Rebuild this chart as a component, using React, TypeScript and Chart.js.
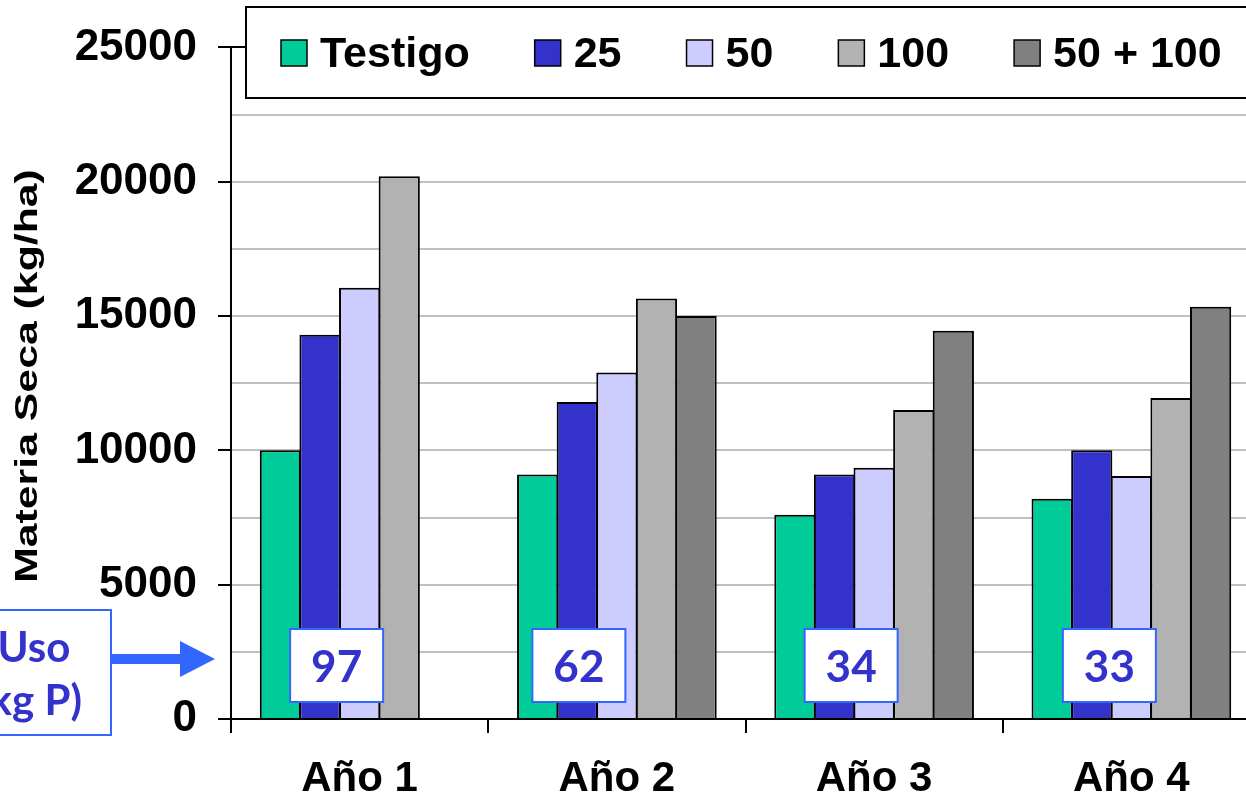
import React, { useEffect, useRef } from 'react';
import { Chart, registerables } from 'chart.js';

Chart.register(...registerables);

// ---- data ----
const categories = ['Año 1', 'Año 2', 'Año 3', 'Año 4'];
const seriesNames = ['Testigo', '25', '50', '100', '50 + 100'];
const testigo = [10000, 9100, 7600, 8200];
const p25 = [14300, 11800, 9100, 10000];
const p50 = [16050, 12900, 9350, 9050];
const p100 = [20200, 15650, 11500, 11950];
const p50plus100: (number | null)[] = [null, 15000, 14450, 15350];
const usoKgP = ['97', '62', '34', '33'];
const yTickLabels = [0, 5000, 10000, 15000, 20000, 25000];
const yAxisTitle = 'Materia Seca (kg/ha)';
const usoLines = ['Uso', '(kg P)'];

// ---- styles ----
const seriesColors = ['#00cc99', '#3333cc', '#ccccff', '#b2b2b2', '#808080'];
const FONT = "'Liberation Sans', Arial, sans-serif";
const NOTE_FONT = "Lato, 'DejaVu Sans', sans-serif";
const NOTE_TEXT = '#3333cc';
const NOTE_BORDER = '#3366ff';
const boxOffsets = [-23, -38, -23, -22];

const overlayPlugin = {
  id: 'overlay',
  afterDraw(chart: any) {
    const { ctx, chartArea, scales } = chart;
    const xs = scales.x;
    ctx.save();

    // Legend box
    ctx.fillStyle = '#fff';
    ctx.fillRect(246, 7, 1200, 91);
    ctx.strokeStyle = '#000';
    ctx.lineWidth = 2;
    ctx.strokeRect(246, 7, 1200, 91);
    ctx.font = `bold 43px ${FONT}`;
    ctx.textBaseline = 'alphabetic';
    ctx.textAlign = 'left';
    let lx = 281;
    seriesNames.forEach((name, i) => {
      ctx.fillStyle = seriesColors[i];
      ctx.fillRect(lx, 40, 26, 26);
      ctx.strokeStyle = '#000';
      ctx.lineWidth = 1.5;
      ctx.strokeRect(lx, 40, 26, 26);
      ctx.fillStyle = '#000';
      ctx.fillText(name, lx + 39, 67);
      lx += 39 + ctx.measureText(name).width + 65;
    });

    // Y axis title (stretched along its length)
    ctx.save();
    ctx.translate(0, 376);
    ctx.rotate(-Math.PI / 2);
    ctx.scale(1.38, 1);
    ctx.font = `bold 31px ${FONT}`;
    ctx.fillStyle = '#000';
    ctx.textAlign = 'center';
    ctx.textBaseline = 'alphabetic';
    ctx.fillText(yAxisTitle, 0, 37);
    ctx.restore();

    // Uso (kg P) box
    ctx.fillStyle = '#fff';
    ctx.fillRect(-49, 610, 160, 125);
    ctx.strokeStyle = NOTE_BORDER;
    ctx.lineWidth = 2;
    ctx.strokeRect(-49, 610, 160, 125);
    ctx.fillStyle = NOTE_TEXT;
    ctx.font = `bold 42px ${NOTE_FONT}`;
    ctx.textAlign = 'center';
    ctx.textBaseline = 'alphabetic';
    ctx.fillText(usoLines[0], 34, 662);
    ctx.fillText(usoLines[1], 30, 715);

    // Arrow
    ctx.fillStyle = NOTE_BORDER;
    ctx.fillRect(111, 654, 70, 10);
    ctx.beginPath();
    ctx.moveTo(180, 641);
    ctx.lineTo(215, 659);
    ctx.lineTo(180, 677);
    ctx.closePath();
    ctx.fill();

    // Value boxes
    usoKgP.forEach((label, i) => {
      const cx = xs.getPixelForValue(i) + boxOffsets[i];
      const top = chartArea.bottom - 90;
      ctx.fillStyle = '#fff';
      ctx.fillRect(cx - 46.5, top, 93, 73);
      ctx.strokeStyle = NOTE_BORDER;
      ctx.lineWidth = 2;
      ctx.strokeRect(cx - 46.5, top, 93, 73);
      ctx.fillStyle = NOTE_TEXT;
      ctx.font = `bold 44px ${NOTE_FONT}`;
      ctx.textAlign = 'center';
      ctx.textBaseline = 'alphabetic';
      ctx.fillText(label, cx, top + 53);
    });

    ctx.restore();
  },
};

export default function App() {
  const ref = useRef<HTMLCanvasElement | null>(null);

  useEffect(() => {
    if (!ref.current) return;
    const series = [testigo, p25, p50, p100, p50plus100];
    const chart = new Chart(ref.current, {
      type: 'bar',
      data: {
        labels: categories,
        datasets: series.map((d, i) => ({
          label: seriesNames[i],
          data: d,
          backgroundColor: seriesColors[i],
          borderColor: '#000',
          borderWidth: 2,
          borderSkipped: 'bottom',
          barPercentage: 1.04,
          categoryPercentage: 0.77,
        })),
      },
      options: {
        responsive: false,
        animation: false,
        layout: { padding: { top: 45, right: 40, left: 0, bottom: 0 } },
        plugins: {
          legend: { display: false },
          tooltip: { enabled: false },
        },
        scales: {
          x: {
            type: 'category',
            grid: {
              offset: true,
              drawOnChartArea: false,
              drawTicks: true,
              tickLength: 14,
              tickColor: '#000',
              lineWidth: 2,
            },
            border: { color: '#000', width: 2 },
            ticks: {
              color: '#000',
              font: { family: FONT, size: 42, weight: 'bold' },
              padding: 21,
              maxRotation: 0,
              autoSkip: false,
            },
            afterFit: (s: any) => {
              s.height = 80;
            },
          },
          y: {
            min: 0,
            max: 25000,
            grid: {
              color: (c: any) =>
                c.tick && c.tick.value === 25000 ? '#000' : '#c0c0c0',
              tickColor: (c: any) =>
                c.tick && yTickLabels.includes(c.tick.value) ? '#000' : 'rgba(0,0,0,0)',
              lineWidth: 2,
              tickLength: 13,
            },
            border: { color: '#000', width: 2 },
            ticks: {
              stepSize: 2500,
              autoSkip: false,
              color: '#000',
              font: { family: FONT, size: 44, weight: 'bold' },
              padding: 21,
              callback: (v: any) => (yTickLabels.includes(Number(v)) ? String(v) : ''),
            },
            afterFit: (s: any) => {
              s.width = 231;
            },
          },
        },
      },
      plugins: [overlayPlugin],
    });
    return () => chart.destroy();
  }, []);

  return (
    <div
      style={{
        position: 'fixed',
        left: 0,
        top: 0,
        width: 1246,
        height: 799,
        overflow: 'hidden',
        background: '#fff',
      }}
    >
      <canvas ref={ref} width={1300} height={799} style={{ display: 'block' }} />
    </div>
  );
}
